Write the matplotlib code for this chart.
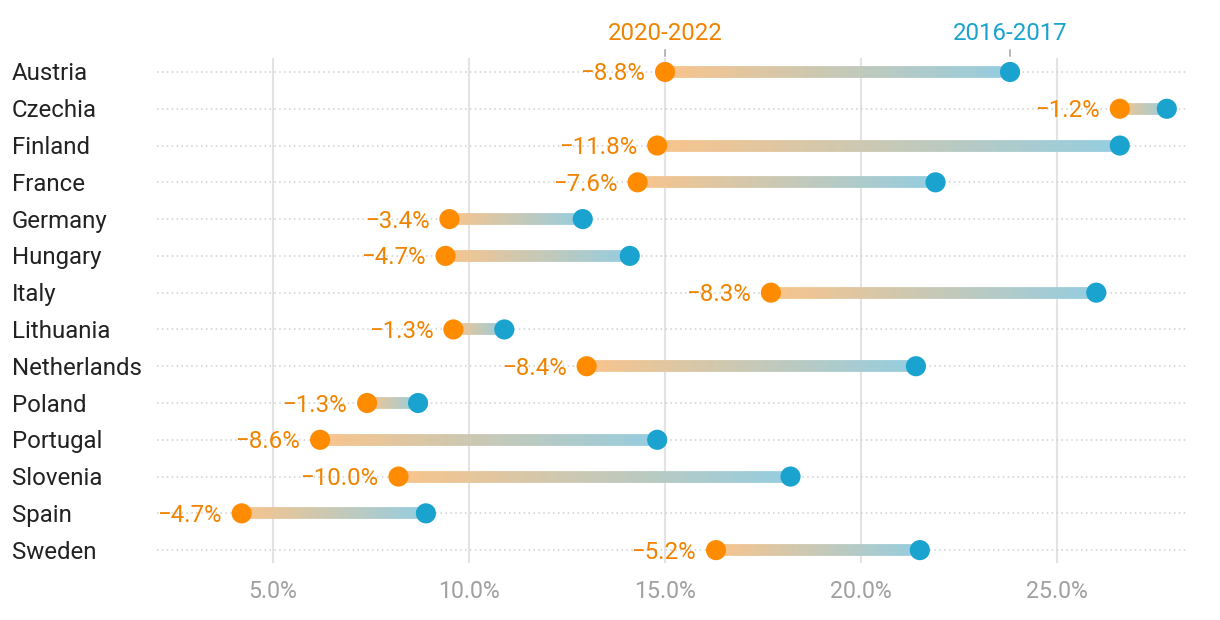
import numpy as np
import matplotlib.pyplot as plt
from matplotlib.collections import LineCollection
from matplotlib.colors import to_rgb

plt.rcParams['font.family'] = ['Roboto', 'DejaVu Sans']

countries = ['Austria', 'Czechia', 'Finland', 'France', 'Germany', 'Hungary', 'Italy',
             'Lithuania', 'Netherlands', 'Poland', 'Portugal', 'Slovenia', 'Spain', 'Sweden']
v_2016 = [23.8, 27.8, 26.6, 21.9, 12.9, 14.1, 26.0, 10.9, 21.4, 8.7, 14.8, 18.2, 8.9, 21.5]
v_2020 = [15.0, 26.6, 14.8, 14.3, 9.5, 9.4, 17.7, 9.6, 13.0, 7.4, 6.2, 8.2, 4.2, 16.3]
xticks = [5, 10, 15, 20, 25]

orange = '#FF8C00'
blue = '#1AA3CF'
light_or = np.array(to_rgb('#F8C48C'))
light_bl = np.array(to_rgb('#95CDE0'))

fig = plt.figure(figsize=(12.2, 6.2), dpi=100)
ax = fig.add_axes([157 / 1220, 1 - 563 / 620, (1188 - 157) / 1220, (563 - 58) / 620])

ax.set_xlim(2.04, 28.34)
ax.set_ylim(13.35, -0.38)

for i in range(len(countries)):
    ax.axhline(i, color='#d0d0d0', lw=1.1, ls=(0, (1, 2.2)), zorder=1)

ax.set_xticks(xticks)
ax.set_xticklabels([f'{t:.1f}%' for t in xticks])
ax.grid(axis='x', color='#e3e3e3', lw=1.5)
ax.set_axisbelow(True)
ax.tick_params(axis='x', length=0, pad=12, labelsize=16.7, labelcolor='#a0a0a0')
ax.set_yticks([])
for s in ax.spines.values():
    s.set_visible(False)

n = 60
for i, (a, b) in enumerate(zip(v_2020, v_2016)):
    xs = np.linspace(a, b, n + 1)
    segs = [[(xs[k], i), (xs[k + 1], i)] for k in range(n)]
    t = np.linspace(0, 1, n)[:, None]
    cols = light_or * (1 - t) + light_bl * t
    ax.add_collection(LineCollection(segs, colors=cols, linewidths=8.5, zorder=2, capstyle='butt'))
    ax.scatter([b], [i], s=210, color=blue, zorder=3, edgecolors='none')
    ax.scatter([a], [i], s=210, color=orange, zorder=3, edgecolors='none')
    d = a - b
    ax.annotate(f'\u2212{abs(d):.1f}%', (a, i), xytext=(-20, -2), textcoords='offset pixels',
                ha='right', va='center', color='#F08300', fontsize=17.3)

# country labels
for i, c in enumerate(countries):
    ax.annotate(c, (0, i), xycoords=('figure pixels', 'data'), xytext=(12, -2),
                textcoords='offset pixels', ha='left', va='center', color='#222222', fontsize=17.3)

# series labels above first row
for x, lab, col in [(v_2020[0], '2020-2022', '#F08300'), (v_2016[0], '2016-2017', blue)]:
    ax.annotate('', (x, -0.35), xytext=(x, -0.68), xycoords='data', textcoords='data',
                arrowprops=dict(arrowstyle='-', color='#999999', lw=1), annotation_clip=False)
    ax.annotate(lab, (x, -0.68), xytext=(0, 2), textcoords='offset pixels', ha='center', va='bottom',
                color=col, fontsize=17.3, annotation_clip=False)

fig.savefig('out.png', dpi=100, facecolor='white')
